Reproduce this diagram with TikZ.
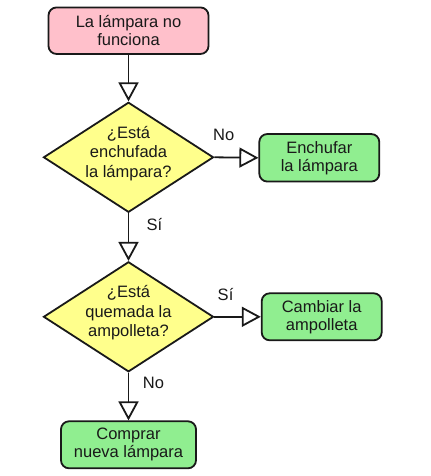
\documentclass[tikz,border=0pt]{standalone}
\usepackage{fontspec}
\setmainfont{Liberation Sans}
\usetikzlibrary{shapes.geometric,arrows.meta}
\definecolor{startpink}{RGB}{255,192,203}
\definecolor{decyellow}{RGB}{255,255,140}
\definecolor{actgreen}{RGB}{144,238,144}
\definecolor{edgeblk}{RGB}{25,25,25}
\newcommand\diatxt[1]{\smash{\makebox[0pt]{\raisebox{-1bp}{\fontsize{16.5bp}{19.5bp}\selectfont\begin{tabular}{@{}c@{}}#1\end{tabular}}}}}
\begin{document}
\begin{tikzpicture}[x=1bp,y=-1bp,
  every node/.style={font=\fontsize{16.5bp}{18bp}\selectfont, text=black!90},
  boxnode/.style={rectangle, rounded corners=8bp, draw=edgeblk, line width=1.8bp, align=center, inner sep=0pt},
  decnode/.style={diamond, draw=edgeblk, line width=1.8bp, fill=decyellow, inner sep=0pt, minimum width=170bp, minimum height=110bp},
  arr/.style={draw=edgeblk, line width=1.8bp, -{Triangle[length=19bp, width=20bp, fill=white]}},
  lbl/.style={inner sep=0pt}
]
\useasboundingbox[fill=white] (0,0) rectangle (430,476);

\node[boxnode, fill=startpink, minimum width=160bp, minimum height=46.5bp] (start) at (128.5,30.7) {La lámpara no\\funciona};
\node[decnode] (d1) at (128.5,157.3) {\diatxt{¿Está\\enchufada\\la lámpara?}};
\node[boxnode, fill=actgreen, minimum width=120bp, minimum height=47.5bp] (plug) at (319.3,157.8) {Enchufar\\la lámpara};
\node[decnode] (d2) at (128.5,316.8) {\diatxt{¿Está\\quemada la\\ampolleta?}};
\node[boxnode, fill=actgreen, minimum width=120bp, minimum height=47bp] (bulb) at (321.7,316.8) {Cambiar la\\ampolleta};
\node[boxnode, fill=actgreen, minimum width=135bp, minimum height=47bp] (buy) at (128.5,444.8) {Comprar\\nueva lámpara};

\draw[arr] (start) -- (d1);
\draw[arr] (d1.east) -- node[lbl, pos=0.21, yshift=22bp] (l1) {No} (plug.west);
\draw[arr] (d1.south) -- node[lbl, pos=0.23, xshift=26bp] (l2) {Sí} (d2.north);
\draw[arr] (d2.east) -- node[lbl, pos=0.24, yshift=22.5bp] (l3) {Sí} (bulb.west);
\draw[arr] (d2.south) -- node[lbl, pos=0.21, xshift=25bp] (l4) {No} (buy.north);
\end{tikzpicture}
\end{document}
